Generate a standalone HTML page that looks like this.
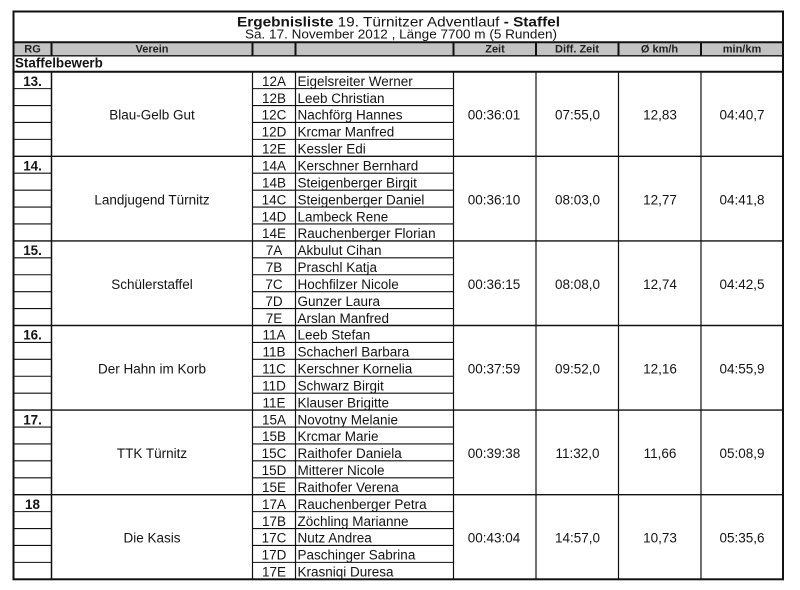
<!DOCTYPE html>
<html><head><meta charset="utf-8">
<style>
html,body{margin:0;padding:0;background:#fff;}
svg{display:block;}
text{font-family:"Liberation Sans",Arial,sans-serif;fill:#141414;}
.b{font-size:13.5px;}
.bb{font-size:13.4px;font-weight:bold;}
.h{font-size:11px;font-weight:bold;fill:#222;}
.c{text-anchor:middle;}
</style></head>
<body>
<svg width="800" height="590" viewBox="0 0 800 590" xmlns="http://www.w3.org/2000/svg">
<rect x="0" y="0" width="800" height="590" fill="#fff"/>
<rect x="13.5" y="42.5" width="769.5" height="13" fill="#c3c3c3"/>
<g stroke="#111" fill="none">
<rect x="13.5" y="11.5" width="769.5" height="567.8" stroke-width="2"/>
<line x1="13.5" y1="42.3" x2="783" y2="42.3" stroke-width="2"/>
<line x1="13.5" y1="55.8" x2="783" y2="55.8" stroke-width="1.4"/>
<line x1="13.5" y1="71.7" x2="783" y2="71.7" stroke-width="2"/>
<path d="M51.5 42.5V55.5M252.5 42.5V55.5M295.5 42.5V55.5M453.5 42.5V55.5M536 42.5V55.5M618.5 42.5V55.5M701 42.5V55.5" stroke-width="2"/>
<path d="M51.5 71.7V579.3" stroke-width="1.5"/>
<path d="M252.5 71.7V579.3M295.5 71.7V579.3M453.5 71.7V579.3M536 71.7V579.3M618.5 71.7V579.3M701 71.7V579.3" stroke-width="1.2"/>
<path d="M13.5 156.3H783M13.5 240.9H783M13.5 325.5H783M13.5 410.1H783M13.5 494.7H783" stroke-width="1.4"/>
<path stroke-width="1.1" d="
M13.5 88.62H51.5M252.5 88.62H453.5
M13.5 105.54H51.5M252.5 105.54H453.5
M13.5 122.46H51.5M252.5 122.46H453.5
M13.5 139.38H51.5M252.5 139.38H453.5
M13.5 173.22H51.5M252.5 173.22H453.5
M13.5 190.14H51.5M252.5 190.14H453.5
M13.5 207.06H51.5M252.5 207.06H453.5
M13.5 223.98H51.5M252.5 223.98H453.5
M13.5 257.82H51.5M252.5 257.82H453.5
M13.5 274.74H51.5M252.5 274.74H453.5
M13.5 291.66H51.5M252.5 291.66H453.5
M13.5 308.58H51.5M252.5 308.58H453.5
M13.5 342.42H51.5M252.5 342.42H453.5
M13.5 359.34H51.5M252.5 359.34H453.5
M13.5 376.26H51.5M252.5 376.26H453.5
M13.5 393.18H51.5M252.5 393.18H453.5
M13.5 427.02H51.5M252.5 427.02H453.5
M13.5 443.94H51.5M252.5 443.94H453.5
M13.5 460.86H51.5M252.5 460.86H453.5
M13.5 477.78H51.5M252.5 477.78H453.5
M13.5 511.62H51.5M252.5 511.62H453.5
M13.5 528.54H51.5M252.5 528.54H453.5
M13.5 545.46H51.5M252.5 545.46H453.5
M13.5 562.38H51.5M252.5 562.38H453.5"/>
</g>

<text x="237" y="26.5" font-size="14" textLength="323" lengthAdjust="spacingAndGlyphs"><tspan font-weight="bold">Ergebnisliste</tspan> 19. Türnitzer Adventlauf <tspan font-weight="bold">- Staffel</tspan></text>
<text x="245" y="38.5" font-size="12.5" textLength="312" lengthAdjust="spacingAndGlyphs">Sa. 17. November 2012 , Länge 7700 m (5 Runden)</text>

<text class="h c" x="32.5" y="52.5">RG</text>
<text class="h c" x="152" y="52.5">Verein</text>
<text class="h c" x="495" y="52.5">Zeit</text>
<text class="h c" x="577" y="52.5">Diff. Zeit</text>
<text class="h c" x="659.5" y="52.5">Ø km/h</text>
<text class="h c" x="742" y="52.5">min/km</text>

<text class="bb" x="15" y="67.5">Staffelbewerb</text>

<text class="bb c" x="32.5" y="85.9">13.</text>
<text class="bb c" x="32.5" y="170.5">14.</text>
<text class="bb c" x="32.5" y="255.1">15.</text>
<text class="bb c" x="32.5" y="339.7">16.</text>
<text class="bb c" x="32.5" y="424.3">17.</text>
<text class="bb c" x="32.5" y="508.9">18</text>

<text class="b c" x="152" y="119.7">Blau-Gelb Gut</text>
<text class="b c" x="152" y="204.3">Landjugend Türnitz</text>
<text class="b c" x="152" y="288.9">Schülerstaffel</text>
<text class="b c" x="152" y="373.5">Der Hahn im Korb</text>
<text class="b c" x="152" y="458.1">TTK Türnitz</text>
<text class="b c" x="152" y="542.7">Die Kasis</text>

<text class="b c" x="274" y="85.9">12A</text>
<text class="b c" x="274" y="102.8">12B</text>
<text class="b c" x="274" y="119.7">12C</text>
<text class="b c" x="274" y="136.7">12D</text>
<text class="b c" x="274" y="153.6">12E</text>
<text class="b c" x="274" y="170.5">14A</text>
<text class="b c" x="274" y="187.4">14B</text>
<text class="b c" x="274" y="204.3">14C</text>
<text class="b c" x="274" y="221.3">14D</text>
<text class="b c" x="274" y="238.2">14E</text>
<text class="b c" x="274" y="255.1">7A</text>
<text class="b c" x="274" y="272.0">7B</text>
<text class="b c" x="274" y="288.9">7C</text>
<text class="b c" x="274" y="305.9">7D</text>
<text class="b c" x="274" y="322.8">7E</text>
<text class="b c" x="274" y="339.7">11A</text>
<text class="b c" x="274" y="356.6">11B</text>
<text class="b c" x="274" y="373.5">11C</text>
<text class="b c" x="274" y="390.5">11D</text>
<text class="b c" x="274" y="407.4">11E</text>
<text class="b c" x="274" y="424.3">15A</text>
<text class="b c" x="274" y="441.2">15B</text>
<text class="b c" x="274" y="458.1">15C</text>
<text class="b c" x="274" y="475.1">15D</text>
<text class="b c" x="274" y="492.0">15E</text>
<text class="b c" x="274" y="508.9">17A</text>
<text class="b c" x="274" y="525.8">17B</text>
<text class="b c" x="274" y="542.7">17C</text>
<text class="b c" x="274" y="559.7">17D</text>
<text class="b c" x="274" y="576.6">17E</text>

<text class="b" x="297.5" y="85.9">Eigelsreiter Werner</text>
<text class="b" x="297.5" y="102.8">Leeb Christian</text>
<text class="b" x="297.5" y="119.7">Nachförg Hannes</text>
<text class="b" x="297.5" y="136.7">Krcmar Manfred</text>
<text class="b" x="297.5" y="153.6">Kessler Edi</text>
<text class="b" x="297.5" y="170.5">Kerschner Bernhard</text>
<text class="b" x="297.5" y="187.4">Steigenberger Birgit</text>
<text class="b" x="297.5" y="204.3">Steigenberger Daniel</text>
<text class="b" x="297.5" y="221.3">Lambeck Rene</text>
<text class="b" x="297.5" y="238.2">Rauchenberger Florian</text>
<text class="b" x="297.5" y="255.1">Akbulut Cihan</text>
<text class="b" x="297.5" y="272.0">Praschl Katja</text>
<text class="b" x="297.5" y="288.9">Hochfilzer Nicole</text>
<text class="b" x="297.5" y="305.9">Gunzer Laura</text>
<text class="b" x="297.5" y="322.8">Arslan Manfred</text>
<text class="b" x="297.5" y="339.7">Leeb Stefan</text>
<text class="b" x="297.5" y="356.6">Schacherl Barbara</text>
<text class="b" x="297.5" y="373.5">Kerschner Kornelia</text>
<text class="b" x="297.5" y="390.5">Schwarz Birgit</text>
<text class="b" x="297.5" y="407.4">Klauser Brigitte</text>
<text class="b" x="297.5" y="424.3">Novotny Melanie</text>
<text class="b" x="297.5" y="441.2">Krcmar Marie</text>
<text class="b" x="297.5" y="458.1">Raithofer Daniela</text>
<text class="b" x="297.5" y="475.1">Mitterer Nicole</text>
<text class="b" x="297.5" y="492.0">Raithofer Verena</text>
<text class="b" x="297.5" y="508.9">Rauchenberger Petra</text>
<text class="b" x="297.5" y="525.8">Zöchling Marianne</text>
<text class="b" x="297.5" y="542.7">Nutz Andrea</text>
<text class="b" x="297.5" y="559.7">Paschinger Sabrina</text>
<text class="b" x="297.5" y="576.6">Krasniqi Duresa</text>

<text class="b c" x="494" y="119.7">00:36:01</text>
<text class="b c" x="577.5" y="119.7">07:55,0</text>
<text class="b c" x="660" y="119.7">12,83</text>
<text class="b c" x="742" y="119.7">04:40,7</text>

<text class="b c" x="494" y="204.3">00:36:10</text>
<text class="b c" x="577.5" y="204.3">08:03,0</text>
<text class="b c" x="660" y="204.3">12,77</text>
<text class="b c" x="742" y="204.3">04:41,8</text>

<text class="b c" x="494" y="288.9">00:36:15</text>
<text class="b c" x="577.5" y="288.9">08:08,0</text>
<text class="b c" x="660" y="288.9">12,74</text>
<text class="b c" x="742" y="288.9">04:42,5</text>

<text class="b c" x="494" y="373.5">00:37:59</text>
<text class="b c" x="577.5" y="373.5">09:52,0</text>
<text class="b c" x="660" y="373.5">12,16</text>
<text class="b c" x="742" y="373.5">04:55,9</text>

<text class="b c" x="494" y="458.1">00:39:38</text>
<text class="b c" x="577.5" y="458.1">11:32,0</text>
<text class="b c" x="660" y="458.1">11,66</text>
<text class="b c" x="742" y="458.1">05:08,9</text>

<text class="b c" x="494" y="542.7">00:43:04</text>
<text class="b c" x="577.5" y="542.7">14:57,0</text>
<text class="b c" x="660" y="542.7">10,73</text>
<text class="b c" x="742" y="542.7">05:35,6</text>
</svg>
</body></html>
